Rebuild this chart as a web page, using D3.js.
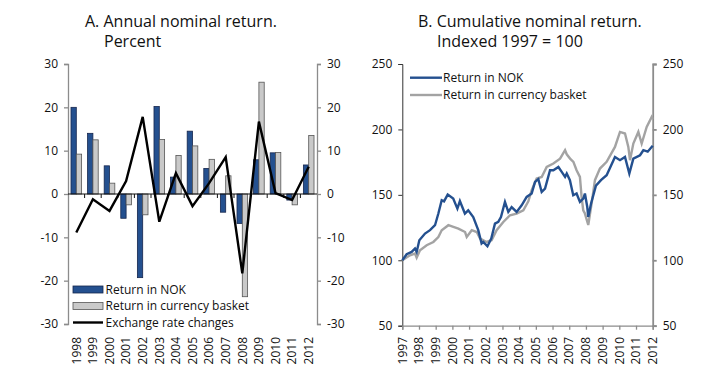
<!DOCTYPE html>
<html>
<head>
<meta charset="utf-8">
<script src="https://cdn.jsdelivr.net/npm/d3@7"></script>
<style>
  body { margin: 0; background: white; }
  text { font-family: 'Open Sans', sans-serif; fill: #111; }
</style>
</head>
<body>
<div id="chart"></div>
<script>
// panel A data: annual returns, percent
var years = ['1998', '1999', '2000', '2001', '2002', '2003', '2004', '2005',
  '2006', '2007', '2008', '2009', '2010', '2011', '2012']
var nok = [20.0, 14.0, 6.5, -5.6, -19.3, 20.2, 3.9, 14.5, 5.9, -4.2, -6.8, 7.9, 9.5, -1.4, 6.7]
var basket = [9.2, 12.5, 2.5, -2.5, -4.8, 12.6, 8.9, 11.1, 8.0, 4.2, -23.7, 25.8, 9.6, -2.5, 13.5]
var fxChange = [-8.9, -1.2, -3.9, 3.0, 17.8, -6.4, 4.8, -2.8, 2.5, 8.5, -18.3, 16.7, 0.2, -1.4, 6.3]
var ticksA = [-30, -20, -10, 0, 10, 20, 30]

// panel B data: cumulative return, 1997 = 100 (decimal year, index)
var cumNok = [[1997.00, 100], [1997.26, 104.6], [1997.56, 106.4], [1997.76, 109], [1997.86, 106.4],
  [1998.02, 115.3], [1998.36, 120.4], [1998.66, 123], [1998.96, 126.8], [1999.16, 135.7],
  [1999.36, 145.9], [1999.50, 145], [1999.72, 150.2], [2000.05, 147.2], [2000.30, 139.5],
  [2000.45, 145.3], [2000.75, 135.7], [2000.95, 138.2], [2001.25, 133.1], [2001.55, 123],
  [2001.75, 112.8], [2001.85, 114], [2002.10, 110.7], [2002.33, 116.6], [2002.55, 128],
  [2002.75, 129.3], [2002.91, 133.1], [2003.15, 144.6], [2003.35, 137], [2003.55, 140.7],
  [2003.85, 137], [2004.15, 142], [2004.45, 148.4], [2004.75, 151], [2004.95, 159.9],
  [2005.15, 162], [2005.35, 152.2], [2005.55, 154.8], [2005.85, 168.8], [2006.05, 168.8],
  [2006.35, 171.3], [2006.55, 167.5], [2006.75, 163.7], [2006.85, 166.3], [2007.04, 161.2],
  [2007.24, 149.7], [2007.44, 151], [2007.64, 144.6], [2007.84, 147.2], [2007.94, 151],
  [2008.08, 140.7], [2008.14, 133.1], [2008.30, 143], [2008.60, 157], [2008.90, 161.2],
  [2009.24, 165], [2009.74, 179], [2010.04, 176.5], [2010.34, 179], [2010.60, 166.3],
  [2010.84, 177.7], [2011.24, 180.3], [2011.44, 184.1], [2011.70, 183], [2012.00, 187.5]]
var cumBasket = [[1997.00, 100], [1997.46, 103.8], [1997.76, 105.1], [1997.86, 102],
  [1998.06, 107.6], [1998.46, 111.5], [1998.86, 114], [1999.16, 117.8], [1999.36, 123],
  [1999.76, 126.8], [2000.06, 125.5], [2000.36, 124.2], [2000.76, 121.6], [2000.86, 117.8],
  [2001.16, 123], [2001.46, 121.6], [2001.66, 116.6], [2002.05, 114], [2002.35, 115.3],
  [2002.65, 123], [2003.05, 129.3], [2003.45, 134.4], [2003.85, 135.7], [2004.25, 138.2],
  [2004.55, 145], [2004.75, 153.5], [2005.05, 162.5], [2005.35, 163.7], [2005.65, 171.3],
  [2006.05, 173.9], [2006.45, 177.7], [2006.75, 184.1], [2006.85, 181], [2007.05, 177.7],
  [2007.25, 175.2], [2007.44, 168.8], [2007.64, 163.7], [2007.74, 148.4], [2007.84, 138.2],
  [2007.94, 135.7], [2008.14, 127], [2008.34, 143.3], [2008.54, 161.2], [2008.84, 170.1],
  [2009.24, 175.2], [2009.74, 186.6], [2010.04, 198.1], [2010.34, 196.9], [2010.54, 186.6],
  [2010.64, 176.5], [2010.84, 189.2], [2011.14, 198.1], [2011.34, 189.2], [2011.64, 201.9],
  [2011.94, 209.5], [2012.00, 208]]
var yearsB = d3.range(1997, 2013)
var ticksB = [50, 100, 150, 200, 250]

var COLOR = { BLUE: '#24508f', BLUE_EDGE: '#16264d', GREY: '#c9c9c9', GREY_EDGE: '#555',
  LINE_GREY: '#a3a3a3', AXIS: '#8c8c8c' }

var width = 719
var height = 374
var plainNum = d => String(d)  // hyphen minus like the original

var svg = d3.select('#chart').append('svg')
  .attr('width', width)
  .attr('height', height)

// ---------- panel A ----------
var xA = d3.scaleBand().domain(years).range([68, 317])
var xSub = d3.scaleBand().domain(['nok', 'basket'])
  .range([xA.bandwidth() * 0.18, xA.bandwidth() * 0.82])
var yA = d3.scaleLinear().domain([-30, 30]).range([324, 64])

svg.append('text').attr('x', 85).attr('y', 27).style('font-size', '16px')
  .text('A. Annual nominal return.')
svg.append('text').attr('x', 104).attr('y', 47).style('font-size', '16px')
  .text('Percent')

svg.append('g').attr('transform', 'translate(68,0)')
  .call(d3.axisLeft(yA).tickValues(ticksA).tickFormat(plainNum).tickSize(4).tickPadding(6))
svg.append('g').attr('transform', 'translate(317,0)')
  .call(d3.axisRight(yA).tickValues(ticksA).tickFormat(plainNum).tickSize(4).tickPadding(6))
svg.selectAll('.domain, .tick line').attr('stroke', COLOR.AXIS).attr('stroke-width', 1.3)

svg.selectAll('.bar-nok').data(nok).enter().append('rect')
  .attr('class', 'bar-nok')
  .attr('x', (d, i) => xA(years[i]) + xSub('nok'))
  .attr('width', xSub.bandwidth())
  .attr('y', d => yA(Math.max(0, d)))
  .attr('height', d => Math.abs(yA(d) - yA(0)))
  .attr('fill', COLOR.BLUE)
  .attr('stroke', COLOR.BLUE_EDGE)
  .attr('stroke-width', 0.8)

svg.selectAll('.bar-basket').data(basket).enter().append('rect')
  .attr('class', 'bar-basket')
  .attr('x', (d, i) => xA(years[i]) + xSub('basket'))
  .attr('width', xSub.bandwidth())
  .attr('y', d => yA(Math.max(0, d)))
  .attr('height', d => Math.abs(yA(d) - yA(0)))
  .attr('fill', COLOR.GREY)
  .attr('stroke', COLOR.GREY_EDGE)
  .attr('stroke-width', 0.8)

// zero line with ticks between the years
var zeroAxis = svg.append('g').attr('transform', 'translate(0,' + yA(0) + ')')
zeroAxis.append('line').attr('x1', 68).attr('x2', 317).attr('stroke', '#111').attr('stroke-width', 1.2)
zeroAxis.selectAll('.sep').data(years.slice(1)).enter().append('line')
  .attr('x1', d => xA(d)).attr('x2', d => xA(d))
  .attr('y1', 0).attr('y2', 4)
  .attr('stroke', '#111')

svg.selectAll('.year-a').data(years).enter().append('text')
  .attr('transform', d => 'translate(' + (xA(d) + xA.bandwidth() / 2) + ',337) rotate(-90)')
  .attr('text-anchor', 'end')
  .attr('dy', '0.35em')
  .style('font-size', '12px')
  .text(d => d)

var fxLine = d3.line()
  .x((d, i) => xA(years[i]) + xA.bandwidth() / 2)
  .y(d => yA(d))
svg.append('path').datum(fxChange)
  .attr('d', fxLine)
  .attr('fill', 'none')
  .attr('stroke', '#000')
  .attr('stroke-width', 2.4)
  .attr('stroke-linejoin', 'miter')

// legend A
var legendA = [
  { label: 'Return in NOK', type: 'rect', fill: COLOR.BLUE, stroke: COLOR.BLUE_EDGE },
  { label: 'Return in currency basket', type: 'rect', fill: COLOR.GREY, stroke: COLOR.GREY_EDGE },
  { label: 'Exchange rate changes', type: 'line' }
]
legendA.forEach((d, i) => {
  var cy = 289.5 + i * 16.5
  if (d.type === 'rect') {
    svg.append('rect').attr('x', 73).attr('y', cy - 3.5).attr('width', 30).attr('height', 7)
      .attr('fill', d.fill).attr('stroke', d.stroke).attr('stroke-width', 0.8)
  } else {
    svg.append('line').attr('x1', 73).attr('x2', 103).attr('y1', cy).attr('y2', cy)
      .attr('stroke', '#000').attr('stroke-width', 2.4)
  }
  svg.append('text').attr('x', 105.5).attr('y', cy).attr('dy', '0.35em')
    .style('font-size', '12px').text(d.label)
})

// ---------- panel B ----------
var xB = d3.scaleLinear().domain([1997, 2012]).range([402.3, 652.7])
var yB = d3.scaleLinear().domain([50, 250]).range([325.7, 64])

svg.append('text').attr('x', 418).attr('y', 27).style('font-size', '16px')
  .text('B. Cumulative nominal return.')
svg.append('text').attr('x', 437).attr('y', 47).style('font-size', '16px')
  .text('Indexed 1997 = 100')

var leftB = svg.append('g').attr('transform', 'translate(402.3,0)')
  .call(d3.axisLeft(yB).tickValues(ticksB).tickSize(4).tickPadding(6))
leftB.selectAll('.domain, .tick line').attr('stroke', '#333').attr('stroke-width', 1)
var rightB = svg.append('g').attr('transform', 'translate(652.7,0)')
  .call(d3.axisRight(yB).tickValues(ticksB).tickSize(4).tickPadding(6))
rightB.selectAll('.domain, .tick line').attr('stroke', COLOR.AXIS).attr('stroke-width', 1.8)
var bottomB = svg.append('g').attr('transform', 'translate(0,' + yB(50) + ')')
  .call(d3.axisBottom(xB).tickValues(yearsB).tickSize(4).tickFormat(''))
bottomB.selectAll('.domain, .tick line').attr('stroke', COLOR.AXIS).attr('stroke-width', 1.3)
svg.selectAll('.tick text').style('font-size', '12px').attr('fill', '#111')

svg.selectAll('.year-b').data(yearsB).enter().append('text')
  .attr('transform', d => 'translate(' + xB(d) + ',337) rotate(-90)')
  .attr('text-anchor', 'end')
  .attr('dy', '0.35em')
  .style('font-size', '12px')
  .text(d => d)

var lineB = d3.line().x(d => xB(d[0])).y(d => yB(d[1]))
svg.append('path').datum(cumBasket)
  .attr('d', lineB).attr('fill', 'none')
  .attr('stroke', COLOR.LINE_GREY).attr('stroke-width', 2.4)
svg.append('path').datum(cumNok)
  .attr('d', lineB).attr('fill', 'none')
  .attr('stroke', COLOR.BLUE).attr('stroke-width', 2.4)

var legendB = [
  { label: 'Return in NOK', color: COLOR.BLUE },
  { label: 'Return in currency basket', color: COLOR.LINE_GREY }
]
legendB.forEach((d, i) => {
  var cy = 77.7 + i * 17.3
  svg.append('line').attr('x1', 410).attr('x2', 442).attr('y1', cy).attr('y2', cy)
    .attr('stroke', d.color).attr('stroke-width', 2.4)
  svg.append('text').attr('x', 443).attr('y', cy).attr('dy', '0.35em')
    .style('font-size', '12px').text(d.label)
})
</script>
</body>
</html>
